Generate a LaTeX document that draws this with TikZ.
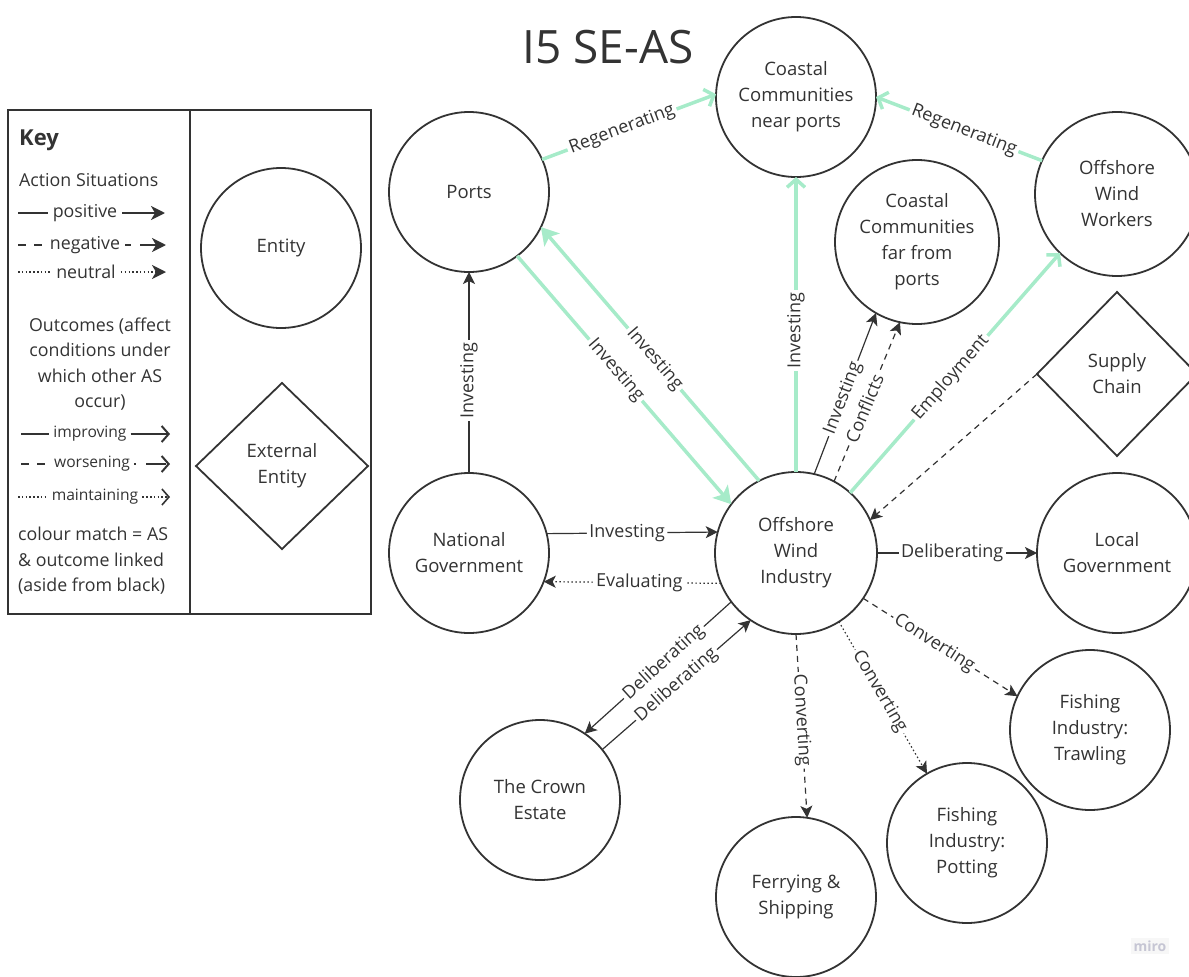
\documentclass[tikz,border=0pt]{standalone}
\usepackage{fontspec}
\setmainfont{Open Sans}
\usetikzlibrary{arrows.meta,shapes.geometric}

\definecolor{ink}{HTML}{333333}
\definecolor{mint}{HTML}{A6EBC9}
\definecolor{logogrey}{HTML}{C6C6D4}

\newcommand{\entfont}{\fontsize{18.5}{26}\selectfont}
\newcommand{\edgefont}{\fontsize{18}{21}\selectfont}
\newcommand{\keyfont}{\fontsize{17.8}{25.5}\selectfont}
\newcommand{\keysmall}{\fontsize{15.6}{18}\selectfont}

\begin{document}
\begin{tikzpicture}[x=1pt,y=-1pt,
  every node/.style={text=ink},
  entity/.style={circle, draw=ink, line width=1.8pt, minimum size=160pt,
    inner sep=0pt, outer sep=0pt, align=center, font=\entfont},
  extent/.style={diamond, draw=ink, line width=1.8pt, aspect=1,
    inner sep=0pt, outer sep=0pt, align=center, font=\entfont},
  lab/.style={fill=white, inner sep=2.5pt, sloped, font=\edgefont},
  asl/.style={draw=ink, line width=1.2pt,
    -{Stealth[length=12pt,width=12pt,inset=3pt]}},
  neg/.style={dash pattern=on 6pt off 5pt},
  neu/.style={dash pattern=on 1.5pt off 2.5pt},
  gas/.style={draw=mint, line width=3.5pt,
    -{Stealth[length=17pt,width=20pt,inset=4pt]}},
  gout/.style={draw=mint, line width=3.5pt,
    -{Straight Barb[length=8pt,width=18pt]}},
  keyt/.style={inner sep=5pt, font=\keyfont},
  keys/.style={inner sep=4pt, font=\keysmall},
  keyline/.style={draw=ink, line width=2pt},
  keyhead/.style={-{Stealth[length=14pt,width=14pt,inset=4pt]}},
  keyopen/.style={-{Straight Barb[length=7pt,width=16pt]}},
]
\useasboundingbox (0,0) rectangle (1189,977);
\clip (0,0) rectangle (1189,977);

% title
\node (title) at (608,47) {\fontsize{46}{50}\selectfont I5 SE-AS};

% ---------- key ----------
\draw[ink, line width=1.8pt] (8,110) rectangle (371,614);
\draw[ink, line width=1.8pt] (190,110) -- (190,614);

\node[anchor=west, font=\fontsize{22}{26}\selectfont\bfseries, inner sep=0pt] (keyhd) at (19,140) {Key};
\node[anchor=west, font=\keyfont, inner sep=0pt] (kas) at (19,180) {Action Situations};

\node[keyt] (kpos) at (85,213) {positive};
\coordinate (kposA) at (18,213); \coordinate (kposB) at (165,213);
\draw[keyline] (kposA) -- (kpos.west);
\draw[keyline, keyhead] (kpos.east) -- (kposB);

\node[keyt] (kneg) at (85,245) {negative};
\coordinate (knegA) at (18,245); \coordinate (knegB) at (166,245);
\draw[keyline, dash pattern=on 8pt off 8pt] (knegA) -- (kneg.west);
\draw[keyline, keyhead, dash pattern=on 6pt off 9pt on 20pt] (kneg.east) -- (knegB);

\node[keyt] (kneu) at (86,272) {neutral};
\coordinate (kneuA) at (18,272); \coordinate (kneuB) at (166,272);
\draw[keyline, line width=1.6pt, dash pattern=on 1.5pt off 2.3pt] (kneuA) -- (kneu.west);
\draw[keyline, line width=1.6pt, keyhead, dash pattern=on 1.5pt off 2.3pt] (kneu.east) -- (kneuB);

\node[align=center, font=\keyfont, inner sep=0pt] (kout) at (100,364)
  {Outcomes (affect\\conditions under\\which other AS\\occur)};

\node[keys] (kimp) at (90,434) {improving};
\coordinate (kimpA) at (21,434); \coordinate (kimpB) at (170,434);
\draw[keyline] (kimpA) -- (kimp.west);
\draw[keyline, keyopen] (kimp.east) -- (kimpB);

\node[keys] (kwor) at (92,464) {worsening};
\coordinate (kworA) at (21,464); \coordinate (kworB) at (170,464);
\draw[keyline, dash pattern=on 8pt off 8pt] (kworA) -- (kwor.west);
\draw[keyline, keyopen, dash pattern=on 2pt off 10pt on 20pt] (kwor.east) -- (kworB);

\node[keys] (kmai) at (95,497) {maintaining};
\coordinate (kmaiA) at (18,497); \coordinate (kmaiB) at (170,497);
\draw[keyline, line width=1.6pt, dash pattern=on 1.5pt off 2.3pt] (kmaiA) -- (kmai.west);
\draw[keyline, line width=1.6pt, keyopen, dash pattern=on 1.5pt off 2.3pt] (kmai.east) -- (kmaiB);

\node[anchor=west, align=left, font=\keyfont, inner sep=0pt] (kcol) at (18,561)
  {colour match = AS\\\& outcome linked\\(aside from black)};

\node[entity] (kent) at (281,248) {Entity};
\node[extent, minimum width=172pt, minimum height=166pt] (kext) at (282,466) {External\\Entity};

% ---------- entities ----------
\node[entity] (ports)   at (469,192) {Ports};
\node[entity] (cnear)   at (796,97)  {Coastal\\Communities\\near ports};
\node[entity, minimum size=164pt] (oww) at (1117,194) {Offshore\\Wind\\Workers};
\node[entity, minimum size=164pt] (cfar) at (917,242) {Coastal\\Communities\\far from\\ports};
\node[extent, minimum width=160pt, minimum height=164pt] (supply) at (1117,374) {Supply\\Chain};
\node[entity, minimum size=162pt] (owi) at (796,553) {Offshore\\Wind\\Industry};
\node[entity] (natgov)  at (469,553) {National\\Government};
\node[entity] (localgov) at (1117,553) {Local\\Government};
\node[entity] (crown)   at (540,800) {The Crown\\Estate};
\node[entity] (ferry)   at (796,897) {Ferrying \&\\Shipping};
\node[entity] (potting) at (967,843) {Fishing\\Industry:\\Potting};
\node[entity] (trawl)   at (1090,730) {Fishing\\Industry:\\Trawling};

% ---------- connectors ----------
\draw[gout] (ports.24) -- node[lab,pos=.46]{Regenerating} (cnear.178);
\draw[gout] (oww.156) -- node[lab,pos=.47]{Regenerating} (cnear.0);
\draw[gout] (owi.90) -- node[lab,pos=.48]{Investing} (cnear.-90);
\draw[gas] (owi.117) -- node[lab,pos=.48]{Investing} (ports.-26);
\draw[gas] (ports.-53) -- node[lab,pos=.46]{Investing} (owi.143);
\draw[gout] (owi.48) -- node[lab,pos=.48]{Employment} (oww.-134);

\draw[asl] (natgov.90) -- node[lab,pos=.46]{Investing} (ports.-90);
\draw[asl] (natgov.14.5) -- node[lab,pos=.47]{Investing} (owi.165.5);
\draw[asl,neu] (owi.-158.7) -- node[lab,pos=.46]{Evaluating} (natgov.-21.3);
\draw[asl] (owi.77) -- node[lab,pos=.47]{Investing} (cfar.-120);
\draw[asl,neg] (owi.62) -- node[lab,pos=.46]{Conflicts} (cfar.-102);
\draw[asl,neg] (supply.west) -- (owi.24);
\draw[asl] (owi.0) -- node[lab,pos=.47]{Deliberating} (localgov.180);
\draw[asl] (owi.217) -- node[lab,pos=.46]{Deliberating} (crown.56);
\draw[asl] (crown.39.5) -- node[lab,pos=.5]{Deliberating} (owi.-124.5);
\draw[asl,neg] (owi.-90) -- node[lab,pos=.47]{Converting} (ferry.82);
\draw[asl,neu] (owi.-58.6) -- node[lab,pos=.46]{Converting} (potting.120);
\draw[asl,neg] (owi.-34.3) -- node[lab,pos=.46]{Converting} (trawl.155);

% logo
\node[fill=black!3, inner sep=3pt, text=logogrey,
  font=\fontsize{14}{16}\selectfont\bfseries] (logo) at (1150,946) {miro};
\end{tikzpicture}
\end{document}
